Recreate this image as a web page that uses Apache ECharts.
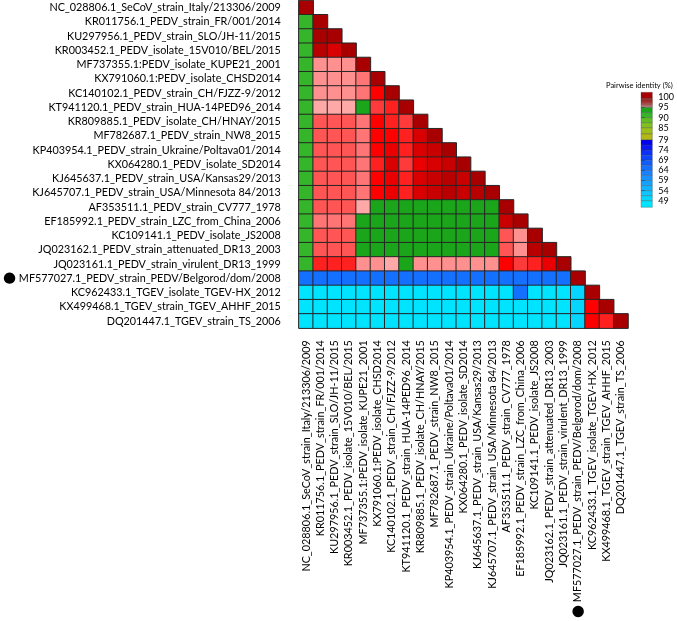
<!DOCTYPE html>
<html><head><meta charset="utf-8">
<script src="https://cdn.jsdelivr.net/npm/echarts@6/dist/echarts.min.js"></script>
<style>html,body{margin:0;padding:0;background:#fff}#c{width:677px;height:621px}</style>
</head><body><div id="c"></div>
<script>
const strains = [
  'NC_028806.1_SeCoV_strain_Italy/213306/2009',
  'KR011756.1_PEDV_strain_FR/001/2014',
  'KU297956.1_PEDV_strain_SLO/JH-11/2015',
  'KR003452.1_PEDV_isolate_15V010/BEL/2015',
  'MF737355.1:PEDV_isolate_KUPE21_2001',
  'KX791060.1:PEDV_isolate_CHSD2014',
  'KC140102.1_PEDV_strain_CH/FJZZ-9/2012',
  'KT941120.1_PEDV_strain_HUA-14PED96_2014',
  'KR809885.1_PEDV_isolate_CH/HNAY/2015',
  'MF782687.1_PEDV_strain_NW8_2015',
  'KP403954.1_PEDV_strain_Ukraine/Poltava01/2014',
  'KX064280.1_PEDV_isolate_SD2014',
  'KJ645637.1_PEDV_strain_USA/Kansas29/2013',
  'KJ645707.1_PEDV_strain_USA/Minnesota 84/2013',
  'AF353511.1_PEDV_strain_CV777_1978',
  'EF185992.1_PEDV_strain_LZC_from_China_2006',
  'KC109141.1_PEDV_isolate_JS2008',
  'JQ023162.1_PEDV_strain_attenuated_DR13_2003',
  'JQ023161.1_PEDV_strain_virulent_DR13_1999',
  'MF577027.1_PEDV_strain_PEDV/Belgorod/dom/2008',
  'KC962433.1_TGEV_isolate_TGEV-HX_2012',
  'KX499468.1_TGEV_strain_TGEV_AHHF_2015',
  'DQ201447.1_TGEV_strain_TS_2006'
];
const markedIndex = 19;

// lower-triangle pairwise identity (%), row i holds columns 0..i
const row00 = [100];
const row01 = [91, 100];
const row02 = [91, 99.7, 100];
const row03 = [91, 99.2, 98.4, 100];
const row04 = [91, 95.6, 95.6, 95.6, 100];
const row05 = [91, 95.6, 95.6, 95.6, 96.0, 100];
const row06 = [91, 95.7, 95.7, 95.7, 96.0, 97.6, 100];
const row07 = [91, 95.2, 95.2, 95.2, 93.5, 96.8, 97.2, 100];
const row08 = [91, 96.4, 96.4, 96.4, 96.0, 97.6, 97.2, 96.8, 100];
const row09 = [91, 96.4, 96.4, 96.4, 96.0, 97.6, 97.6, 97.2, 98.4, 100];
const row10 = [91, 96.4, 96.4, 96.4, 96.0, 97.6, 98.0, 97.2, 98.4, 98.8, 100];
const row11 = [91, 96.4, 96.4, 96.4, 96.0, 97.2, 98.4, 96.8, 98.0, 98.4, 98.8, 100];
const row12 = [91, 96.4, 96.4, 96.4, 96.0, 97.6, 98.0, 97.2, 98.4, 98.8, 99.2, 98.8, 100];
const row13 = [91, 96.4, 96.4, 96.4, 96.0, 97.6, 98.0, 97.2, 98.4, 98.8, 99.2, 98.8, 99.2, 100];
const row14 = [91, 96.4, 96.4, 96.4, 95.2, 93.5, 93.5, 93.5, 93.5, 93.5, 93.5, 93.5, 93.5, 93.5, 100];
const row15 = [91, 96.0, 96.0, 96.0, 93.5, 93.5, 93.5, 93.5, 93.5, 93.5, 93.5, 93.5, 93.5, 93.5, 98.8, 100];
const row16 = [91, 96.4, 96.4, 96.4, 93.5, 93.5, 93.5, 93.5, 93.5, 93.5, 93.5, 93.5, 93.5, 93.5, 96.4, 95.6, 100];
const row17 = [91, 96.4, 96.4, 96.4, 93.5, 93.5, 93.5, 93.5, 93.5, 93.5, 93.5, 93.5, 93.5, 93.5, 96.4, 95.6, 99.0, 100];
const row18 = [91, 97.2, 97.2, 97.2, 95.6, 95.6, 95.2, 93.5, 95.6, 95.6, 95.6, 95.6, 95.6, 95.6, 97.6, 96.8, 97.2, 98.0, 100];
const row19 = [65, 65, 65, 65, 65, 65, 65, 65, 65, 65, 65, 65, 65, 65, 65, 65, 65, 65, 65, 100];
const row20 = [48, 48, 48, 48, 48, 48, 48, 48, 48, 48, 48, 48, 48, 48, 48, 65, 48, 48, 48, 50, 100];
const row21 = [48, 48, 48, 48, 48, 48, 48, 48, 48, 48, 48, 48, 48, 48, 48, 48, 48, 48, 48, 50, 97.6, 100];
const row22 = [48, 48, 48, 48, 48, 48, 48, 48, 48, 48, 48, 48, 48, 48, 48, 48, 48, 48, 48, 50, 97.6, 97.2, 100];
const rows = [row00,row01,row02,row03,row04,row05,row06,row07,row08,row09,row10,row11,
  row12,row13,row14,row15,row16,row17,row18,row19,row20,row21,row22];

// colour scale steps (%), top to bottom, and legend tick labels
const stepBounds = [102.5, 99.5, 99.0, 98.6, 98.2, 97.8, 97.4, 97.0, 96.6, 96.2, 95.8, 95.4, 95.0,
  92.5, 90, 87.5, 85, 82, 79,
  76.5, 74, 71.5, 69, 66.5, 64, 61.5, 59, 56.5, 54, 51.5, 49, 45.8];
const legendTicks = [100, 95, 90, 85, 79, 74, 69, 64, 59, 54, 49];

const stepColors = ['#a80000','#b80000','#c80000','#d80000','#ea0000','#ff0000','#ff2020','#ff3a3a',
  '#ff5555','#ff7575','#ff9090','#ffa8a8',
  '#1aa51a','#35b52a','#5fbd22','#80c020','#9cbf1c','#b2b818',
  '#0000f0','#0818fa','#0a30ff','#0c46ff','#105cff','#1470ff','#1a82ff','#1892ff','#14a2ff',
  '#10b4ff','#0cc6ff','#06d6ff','#00e4ff'];

const FONT = 'Lato';
const LABEL_SIZE = 10.8;
const cells = [];
rows.forEach((r, i) => r.forEach((v, j) => cells.push([j, i, v])));
const pieces = [];
const legendData = [];
for (let k = 0; k < stepBounds.length - 1; k++) {
  pieces.push({gte: stepBounds[k + 1], lt: stepBounds[k] + (k === 0 ? 0.001 : 0), color: stepColors[k]});
  legendData.push([stepBounds[k + 1], stepBounds[k]]);
}

const fmt = (v, idx) => idx === markedIndex ? '{dot|●} ' + v : v;
const rich = {dot: {fontSize: 15, color: '#000', fontFamily: 'DejaVu Sans'}};

const chart = echarts.init(document.getElementById('c'), null, {renderer: 'canvas'});
chart.setOption({
  animation: false,
  backgroundColor: '#fff',
  title: {text: 'Pairwise identity (%)', left: 601, top: 77,
    textStyle: {fontSize: 7.5, fontWeight: 'normal', color: '#000', fontFamily: FONT}},
  grid: [
    {left: 295, top: 0.5, width: 333, height: 334},
    {left: 641, top: 92.3, width: 17, height: 115}
  ],
  xAxis: [
    {type: 'category', gridIndex: 0, data: strains, position: 'bottom',
      axisLine: {show: false}, axisTick: {show: false}, splitLine: {show: false},
      axisLabel: {interval: 0, rotate: 90, margin: 12, fontSize: LABEL_SIZE, color: '#000', fontFamily: FONT,
        formatter: fmt, rich: rich}},
    {type: 'value', gridIndex: 1, min: 0, max: 1, show: false}
  ],
  yAxis: [
    {type: 'category', gridIndex: 0, data: strains, inverse: true,
      axisLine: {show: false}, axisTick: {show: false}, splitLine: {show: false},
      axisLabel: {interval: 0, margin: 18, fontSize: LABEL_SIZE, color: '#000', fontFamily: FONT,
        formatter: fmt, rich: rich}},
    {type: 'value', gridIndex: 1, min: 45.8, max: 102.5, position: 'right',
      axisLine: {show: false}, splitLine: {show: false},
      axisTick: {show: true, customValues: legendTicks, length: 4, lineStyle: {color: '#000', width: 1}},
      axisLabel: {customValues: legendTicks, margin: 6, fontSize: 9, color: '#000', fontFamily: FONT}}
  ],
  visualMap: {type: 'piecewise', show: false, seriesIndex: 0, dimension: 2, pieces: pieces},
  series: [
    {type: 'heatmap', xAxisIndex: 0, yAxisIndex: 0, data: cells,
      itemStyle: {borderColor: '#262626', borderWidth: 1},
      emphasis: {disabled: true}},
    {type: 'custom', xAxisIndex: 1, yAxisIndex: 1, data: legendData, silent: true,
      encode: {y: [0, 1]},
      renderItem: (params, api) => {
        const lo = api.value(0), hi = api.value(1);
        const a = api.coord([0, hi]);
        const b = api.coord([1, lo]);
        return {type: 'rect', shape: {x: a[0], y: a[1], width: b[0] - a[0], height: b[1] - a[1]},
          style: {fill: stepColors[params.dataIndex], stroke: 'rgba(60,60,60,0.6)', lineWidth: 0.5}};
      }}
  ]
});
</script></body></html>
